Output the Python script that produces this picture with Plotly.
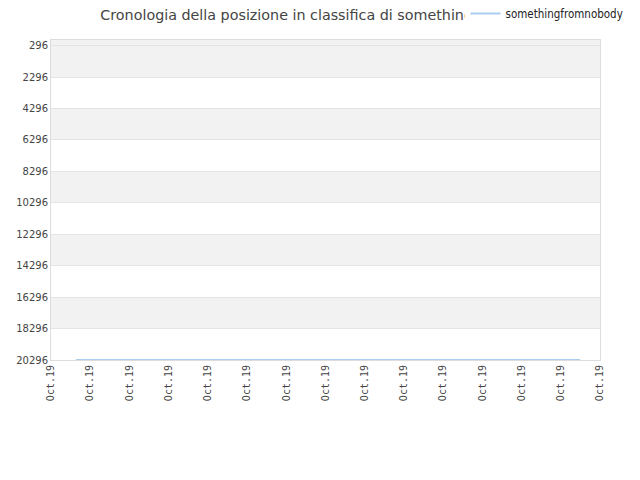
import plotly.graph_objects as go

# data
dates = ["2019-10-01 15:20", "2019-10-14 11:45"]
ranks = [20296, 20296]
tick_dates = ["2019-10-%02d" % d for d in range(1, 16)]
tick_labels = ["Oct.19"] * len(tick_dates)
y_ticks = [296, 2296, 4296, 6296, 8296, 10296, 12296, 14296, 16296, 18296, 20296]
player = "somethingfromnobody"
title = "Cronologia della posizione in classifica di " + player

fig = go.Figure()

fig.add_trace(go.Scatter(x=dates, y=ranks, mode="lines", name=player,
                         line=dict(color="#a8cdef", width=2)))

# title as text in a thin strip subplot, so the legend box sits on top of it
fig.add_trace(go.Scatter(x=[0.508], y=[0.75], mode="text", text=[title],
                         textposition="middle center", cliponaxis=False,
                         textfont=dict(family="DejaVu Sans", size=14.3, color="#444"),
                         xaxis="x2", yaxis="y2", showlegend=False, hoverinfo="skip"))

# alternating background bands
bands = [(-60, 2296)] + [(y_ticks[i], y_ticks[i + 1]) for i in range(2, len(y_ticks) - 1, 2)]
for y0, y1 in bands:
    fig.add_shape(type="rect", xref="x domain", x0=0, x1=1, yref="y", y0=y0, y1=y1,
                  fillcolor="#f2f2f2", line=dict(width=0), layer="below")

# page body has an 8px margin, so the figure is shifted by that amount
fig.update_layout(
    width=632, height=472,
    margin=dict(l=43, r=40, t=0, b=120, autoexpand=False),
    paper_bgcolor="white", plot_bgcolor="white",
    showlegend=True,
    legend=dict(x=0.755, y=1.0256, xanchor="left", yanchor="top",
                bgcolor="white", font=dict(family="DejaVu Sans Condensed", size=11.5, color="#222")),
    xaxis=dict(range=["2019-10-01", "2019-10-15"], tickvals=tick_dates, ticktext=tick_labels,
               tickangle=-90, tickfont=dict(family="DejaVu Sans Mono", size=10, color="#444"),
               showgrid=False, showline=True, linecolor="#dddddd", mirror=True,
               zeroline=False, automargin=False),
    yaxis=dict(domain=[0, 0.909], range=[20296, -60], tickvals=y_ticks,
               ticktext=[str(v) for v in y_ticks],
               tickfont=dict(family="DejaVu Sans", size=10, color="#444"),
               showgrid=True, gridcolor="#e4e4e4", showline=True, linecolor="#dddddd",
               mirror=True, zeroline=False, automargin=False),
    xaxis2=dict(anchor="y2", range=[0, 1], visible=False),
    yaxis2=dict(anchor="x2", domain=[0.909, 1], range=[0, 1], visible=False),
)

fig.write_html("out.html")
